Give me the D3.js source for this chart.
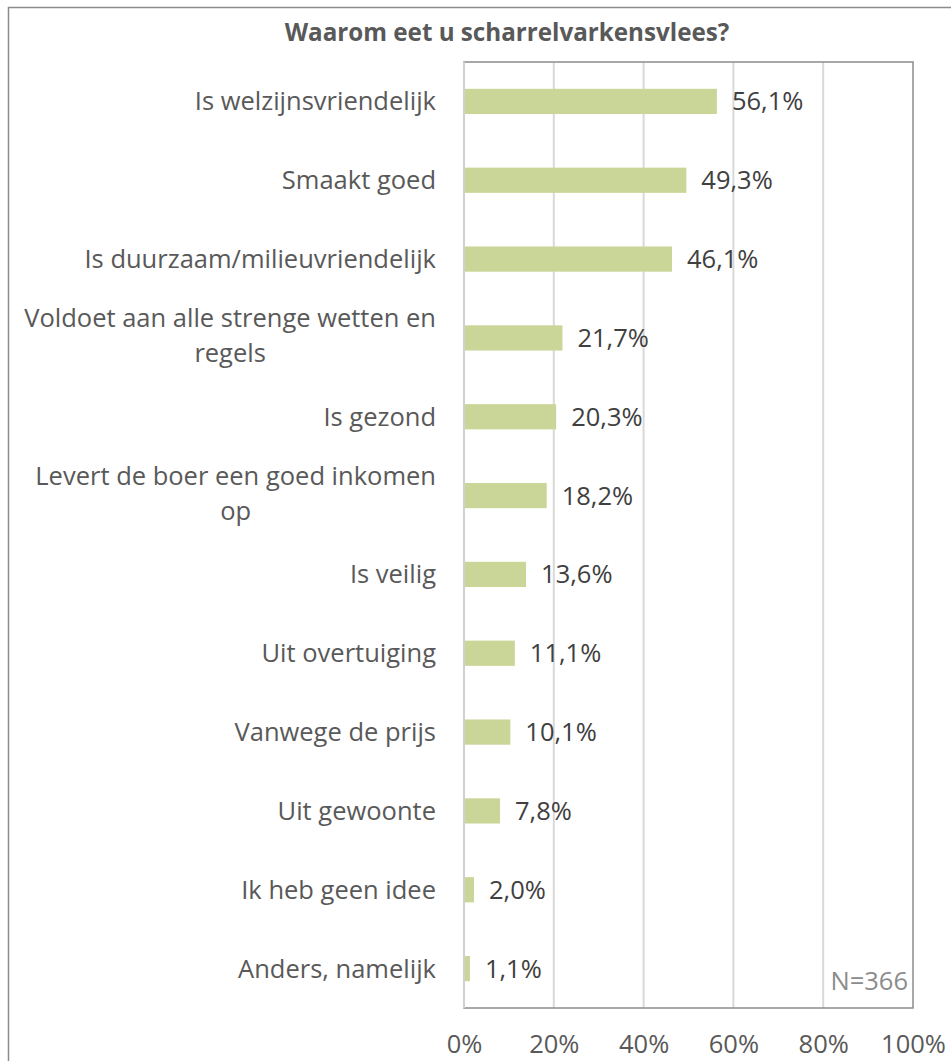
<!DOCTYPE html>
<html>
<head>
<meta charset="utf-8">
<script src="https://cdn.jsdelivr.net/npm/d3@7"></script>
<style>
  html, body { margin: 0; padding: 0; background: #fff; }
  svg { display: block; }
  text { font-family: "Open Sans", "Noto Sans", sans-serif; }
</style>
</head>
<body>
<script>
const title = "Waarom eet u scharrelvarkensvlees?";
const categories = [
  ["Is welzijnsvriendelijk"],
  ["Smaakt goed"],
  ["Is duurzaam/milieuvriendelijk"],
  ["Voldoet aan alle strenge wetten en", "regels"],
  ["Is gezond"],
  ["Levert de boer een goed inkomen", "op"],
  ["Is veilig"],
  ["Uit overtuiging"],
  ["Vanwege de prijs"],
  ["Uit gewoonte"],
  ["Ik heb geen idee"],
  ["Anders, namelijk"]
];
const values = [56.1, 49.3, 46.1, 21.7, 20.3, 18.2, 13.6, 11.1, 10.1, 7.8, 2.0, 1.1];
const xTicks = [0, 20, 40, 60, 80, 100];
const note = "N=366";

const W = 951, H = 1061;
const FS = 25.5;
const svg = d3.select("body").append("svg").attr("width", W).attr("height", H);

// outer frame
svg.append("rect").attr("x", 8.5).attr("y", 7.5).attr("width", 1000).attr("height", 1100)
  .attr("fill", "#fff").attr("stroke", "#8c8c8c").attr("stroke-width", 1.5);

const plot = {left: 464, right: 913, top: 62, bottom: 1008};
const x = d3.scaleLinear().domain([0, 100]).range([plot.left, plot.right]);
const idx = categories.map((d, i) => i);
const y = d3.scaleBand().domain(idx).range([plot.top, plot.bottom]).paddingInner(0.68).paddingOuter(0.34);

svg.append("text").attr("x", 507).attr("y", 41).attr("text-anchor", "middle")
  .attr("font-size", 24.2).attr("font-weight", "bold").attr("fill", "#595959").text(title);

// gridlines
svg.append("g").selectAll("line").data(xTicks.slice(0, -1)).join("line")
  .attr("x1", d => x(d)).attr("x2", d => x(d))
  .attr("y1", plot.top).attr("y2", plot.bottom)
  .attr("stroke", "#d9d9d9").attr("stroke-width", 2);

// plot border
svg.append("rect").attr("x", plot.left).attr("y", plot.top)
  .attr("width", plot.right - plot.left).attr("height", plot.bottom - plot.top)
  .attr("fill", "none").attr("stroke", "#8c8c8c").attr("stroke-width", 1.5);
svg.append("line").attr("x1", plot.left).attr("x2", plot.left).attr("y1", plot.top).attr("y2", plot.bottom)
  .attr("stroke", "#d0d0d0").attr("stroke-width", 2);

// bars
svg.append("g").selectAll("rect").data(values).join("rect")
  .attr("x", x(0) + 1).attr("y", (d, i) => y(i))
  .attr("width", d => x(d) - x(0)).attr("height", y.bandwidth())
  .attr("fill", "#cad698");

// value labels
svg.append("g").selectAll("text").data(values).join("text")
  .attr("x", d => x(d) + 16).attr("y", (d, i) => y(i) + y.bandwidth() / 2)
  .attr("dy", "0.35em").attr("font-size", FS).attr("fill", "#404040")
  .text(d => d.toFixed(1).replace(".", ",") + "%");

// category labels
const labelRight = 436;
const lh = 35;
const lg = svg.append("g");
categories.forEach((lines, i) => {
  const cy = y(i) + y.bandwidth() / 2;
  const t = lg.append("text").attr("font-size", FS).attr("fill", "#595959");
  if (lines.length === 1) {
    t.attr("x", labelRight).attr("y", cy).attr("dy", "0.35em").attr("text-anchor", "end").text(lines[0]);
  } else {
    const c2 = cy - 2;
    t.attr("text-anchor", "end").attr("x", labelRight).attr("y", c2 - lh / 2).attr("dy", "0.35em").text(lines[0]);
    const w = t.node().getComputedTextLength();
    const center = labelRight - w / 2;
    lg.append("text").attr("font-size", FS).attr("fill", "#595959")
      .attr("x", center).attr("y", c2 + lh / 2).attr("dy", "0.35em").attr("text-anchor", "middle").text(lines[1]);
  }
});

// x axis labels
const xAxis = d3.axisBottom(x).tickValues(xTicks).tickSize(0).tickPadding(0).tickFormat(d => d + "%");
const ag = svg.append("g").attr("transform", `translate(0, ${plot.bottom + 27})`).call(xAxis);
ag.select(".domain").remove();
ag.selectAll("text").attr("font-size", FS).attr("fill", "#595959").attr("font-family", "'Open Sans', sans-serif");

// note
svg.append("text").attr("x", 908).attr("y", 981).attr("dy", "0.35em").attr("text-anchor", "end")
  .attr("font-size", FS).attr("fill", "#8c8c8c").text(note);
</script>
</body>
</html>
